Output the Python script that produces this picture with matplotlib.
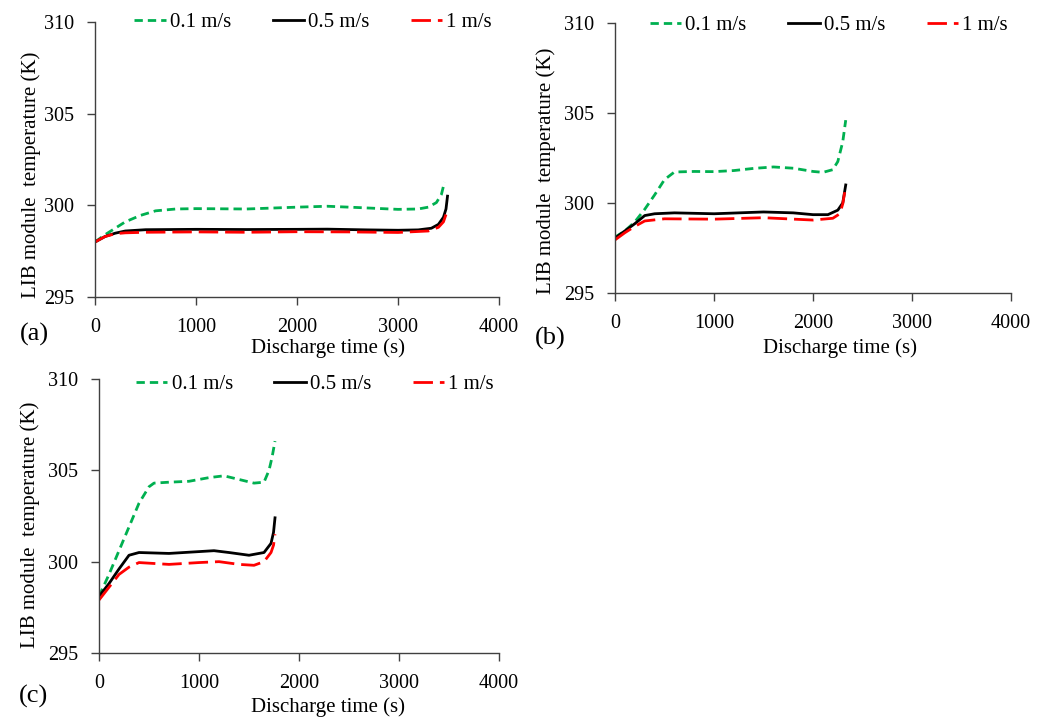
"""
LIB 模块温度随放电时间变化（三种风速，三种放电倍率）
"""

import numpy as np
import matplotlib.pyplot as plt

plt.rcParams["font.family"] = ["Liberation Serif", "DejaVu Serif"]
plt.rcParams["font.size"] = 15

labels = ["0.1 m/s", "0.5 m/s", "1 m/s"]

# (a)
t_a_green = [0, 100, 200, 300, 450, 600, 800, 1000, 1500, 2000, 2300, 2600, 3000, 3200, 3300, 3380, 3430, 3460]
T_a_green = [298.0, 298.4, 298.75, 299.1, 299.45, 299.7, 299.8, 299.82, 299.8, 299.9, 299.95, 299.88, 299.78, 299.8, 299.9, 300.15, 300.6, 301.27]
t_a_black = [0, 100, 200, 300, 500, 1000, 1500, 2000, 2300, 2700, 3000, 3200, 3330, 3400, 3450, 3475, 3490]
T_a_black = [298.0, 298.3, 298.48, 298.6, 298.67, 298.69, 298.68, 298.69, 298.7, 298.66, 298.64, 298.66, 298.75, 298.96, 299.35, 299.8, 300.5]
t_a_red = [0, 100, 200, 300, 500, 1000, 1500, 2000, 2500, 3000, 3300, 3400, 3450, 3475]
T_a_red = [298.0, 298.3, 298.45, 298.5, 298.53, 298.55, 298.53, 298.56, 298.55, 298.52, 298.6, 298.8, 299.1, 299.5]

# (b)
t_b_green = [0, 100, 200, 300, 400, 500, 600, 800, 1000, 1200, 1400, 1600, 1800, 2000, 2100, 2200, 2250, 2300, 2330]
T_b_green = [298.1, 298.45, 298.95, 299.65, 300.45, 301.3, 301.72, 301.75, 301.74, 301.8, 301.92, 302.0, 301.93, 301.75, 301.7, 301.85, 302.3, 303.4, 304.6]
t_b_black = [0, 100, 200, 300, 400, 600, 1000, 1500, 1800, 2000, 2150, 2250, 2300, 2330]
T_b_black = [298.05, 298.45, 298.85, 299.3, 299.4, 299.45, 299.4, 299.5, 299.45, 299.35, 299.35, 299.6, 300.0, 301.0]
t_b_red = [0, 100, 200, 300, 500, 1000, 1500, 2000, 2200, 2270, 2300, 2320]
T_b_red = [297.95, 298.35, 298.7, 299.0, 299.12, 299.1, 299.18, 299.05, 299.15, 299.4, 299.95, 300.6]

# (c)
t_c_green = [0, 100, 200, 300, 400, 500, 550, 700, 900, 1100, 1250, 1400, 1550, 1650, 1700, 1730, 1760]
T_c_green = [298.1, 299.3, 300.6, 301.9, 303.2, 304.1, 304.3, 304.35, 304.4, 304.6, 304.7, 304.5, 304.3, 304.35, 305.0, 305.7, 306.6]
t_c_black = [0, 100, 200, 300, 400, 700, 1000, 1150, 1300, 1500, 1650, 1720, 1745, 1760]
T_c_black = [298.1, 298.8, 299.6, 300.35, 300.5, 300.45, 300.55, 300.6, 300.5, 300.35, 300.5, 301.0, 301.6, 302.4]
t_c_red = [0, 100, 200, 300, 400, 700, 1000, 1200, 1400, 1550, 1650, 1720, 1745, 1760]
T_c_red = [297.9, 298.6, 299.3, 299.7, 299.95, 299.85, 299.95, 300.0, 299.85, 299.8, 300.0, 300.5, 300.9, 301.5]

# 每个子图：标签、位置、三条曲线、图例高度、x/y 轴标题位置、(a)(b)(c) 位置
panels = [
    ("(a)", [0.0904, 0.5858, 0.3844, 0.3835],
     (t_a_green, T_a_green), (t_a_black, T_a_black), (t_a_red, T_a_red),
     1.0, (0.577, -0.185), (-0.157, 0.444), (-0.186, -0.138)),
    ("(b)", [0.5852, 0.5914, 0.3768, 0.3766],
     (t_b_green, T_b_green), (t_b_black, T_b_black), (t_b_red, T_b_red),
     0.99, (0.568, -0.204), (-0.175, 0.452), (-0.202, -0.17)),
    ("(c)", [0.0942, 0.0893, 0.3806, 0.3821],
     (t_c_green, T_c_green), (t_c_black, T_c_black), (t_c_red, T_c_red),
     0.98, (0.5725, -0.197), (-0.172, 0.467), (-0.2, -0.16)),
]

fig = plt.figure(figsize=(10.51, 7.17), dpi=100)

for tag, pos, g, k, r, ly, xl, yl, tp in panels:
    ax = fig.add_axes(pos)
    ax.plot(g[0], g[1], color="#00B050", lw=2.0, dashes=(3, 1.8), label=labels[0])
    ax.plot(k[0], k[1], color="black", lw=2.0, label=labels[1])
    ax.plot(r[0], r[1], color="#FF0000", lw=2.0, dashes=(7, 2.5), label=labels[2])

    ax.set_xlim(0, 4000)
    ax.set_ylim(295, 310)
    ax.set_xticks([0, 1000, 2000, 3000, 4000])
    ax.set_yticks([295, 300, 305, 310])
    for s in ["top", "right"]:
        ax.spines[s].set_visible(False)
    for s in ["left", "bottom"]:
        ax.spines[s].set_color("#404040")
        ax.spines[s].set_linewidth(1.0)
    ax.tick_params(colors="#404040", labelcolor="black", length=6, width=1.0, labelsize=14.5)
    ax.tick_params(axis="y", pad=9)
    ax.tick_params(axis="x", pad=9)

    ax.set_xlabel("Discharge time (s)", fontsize=15)
    ax.set_ylabel("LIB module  temperature (K)", fontsize=15)
    ax.xaxis.set_label_coords(*xl)
    ax.yaxis.set_label_coords(*yl)
    ax.xaxis.label.set_va("center")
    ax.yaxis.label.set_va("center")

    ax.legend(loc="center", bbox_to_anchor=(0.54, ly), ncol=3, frameon=False,
              handlelength=1.5, handletextpad=0.2, columnspacing=2.0, fontsize=15)

    ax.text(tp[0], tp[1], tag, transform=ax.transAxes, fontsize=19, va="center", ha="left")

fig.savefig("out.png", dpi=100)
